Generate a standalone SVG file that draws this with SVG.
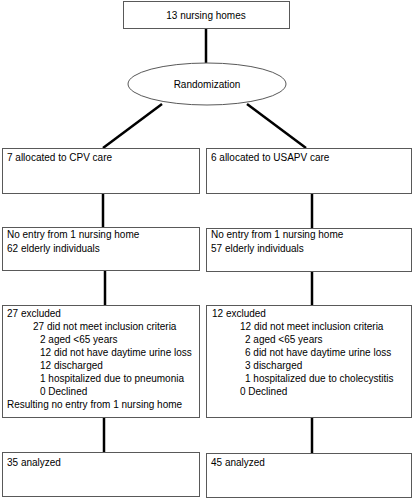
<svg xmlns="http://www.w3.org/2000/svg" width="414" height="500" viewBox="0 0 414 500">
<style>
.box{fill:#fff;stroke:#595959;stroke-width:1}
.t{font-family:"Liberation Sans",Arial,sans-serif;font-size:10px;fill:#000}
.c{stroke:#000;stroke-width:2.5;fill:none}
</style>
<rect width="414" height="500" fill="#fff"/>
<g id="connectors">
<line class="c" x1="206" y1="29" x2="206" y2="63"/>
<line class="c" x1="162" y1="104" x2="103" y2="148"/>
<line class="c" x1="247" y1="104" x2="306" y2="148"/>
<line class="c" x1="103" y1="193" x2="103" y2="227"/>
<line class="c" x1="312" y1="194" x2="312" y2="228"/>
<line class="c" x1="105" y1="271" x2="105" y2="305"/>
<line class="c" x1="312" y1="272" x2="312" y2="305"/>
<line class="c" x1="104" y1="418" x2="104" y2="452"/>
<line class="c" x1="312" y1="418" x2="312" y2="453"/>
</g>
<g id="n_homes">
<rect class="box" x="123.5" y="1.5" width="166" height="27"/>
<text class="t" x="206" y="19" text-anchor="middle">13 nursing homes</text>
</g>
<g id="n_random">
<ellipse class="box" cx="207" cy="84" rx="79" ry="21"/>
<text class="t" x="207" y="88" text-anchor="middle">Randomization</text>
</g>
<g id="n_cpv">
<rect class="box" x="2.5" y="148.5" width="197" height="45"/>
<text class="t" x="7" y="161">7 allocated to CPV care</text>
</g>
<g id="n_usapv">
<rect class="box" x="206.5" y="148.5" width="205" height="45"/>
<text class="t" x="211" y="161">6 allocated to USAPV care</text>
</g>
<g id="n_entry_l">
<rect class="box" x="2.5" y="227.5" width="197" height="43"/>
<text class="t" x="7" y="238">No entry from 1 nursing home</text>
<text class="t" x="7" y="252">62 elderly individuals</text>
</g>
<g id="n_entry_r">
<rect class="box" x="206.5" y="228.5" width="205" height="43"/>
<text class="t" x="211" y="238">No entry from 1 nursing home</text>
<text class="t" x="211" y="252">57 elderly individuals</text>
</g>
<g id="n_excl_l">
<rect class="box" x="2.5" y="305.5" width="197" height="112"/>
<text class="t" x="7" y="317">27 excluded</text>
<text class="t" x="33" y="330">27 did not meet inclusion criteria</text>
<text class="t" x="40" y="343">2 aged &lt;65 years</text>
<text class="t" x="40" y="356">12 did not have daytime urine loss</text>
<text class="t" x="40" y="369">12 discharged</text>
<text class="t" x="40" y="382">1 hospitalized due to pneumonia</text>
<text class="t" x="40" y="395">0 Declined</text>
<text class="t" x="7" y="408">Resulting no entry from 1 nursing home</text>
</g>
<g id="n_excl_r">
<rect class="box" x="206.5" y="305.5" width="205" height="112"/>
<text class="t" x="212" y="317">12 excluded</text>
<text class="t" x="240" y="330">12 did not meet inclusion criteria</text>
<text class="t" x="245" y="343">2 aged &lt;65 years</text>
<text class="t" x="245" y="356">6 did not have daytime urine loss</text>
<text class="t" x="245" y="369">3 discharged</text>
<text class="t" x="245" y="382">1 hospitalized due to cholecystitis</text>
<text class="t" x="240" y="395">0 Declined</text>
</g>
<g id="n_anal_l">
<rect class="box" x="2.5" y="452.5" width="197" height="44"/>
<text class="t" x="7" y="466">35 analyzed</text>
</g>
<g id="n_anal_r">
<rect class="box" x="206.5" y="453.5" width="205" height="44"/>
<text class="t" x="211" y="466">45 analyzed</text>
</g>
</svg>
